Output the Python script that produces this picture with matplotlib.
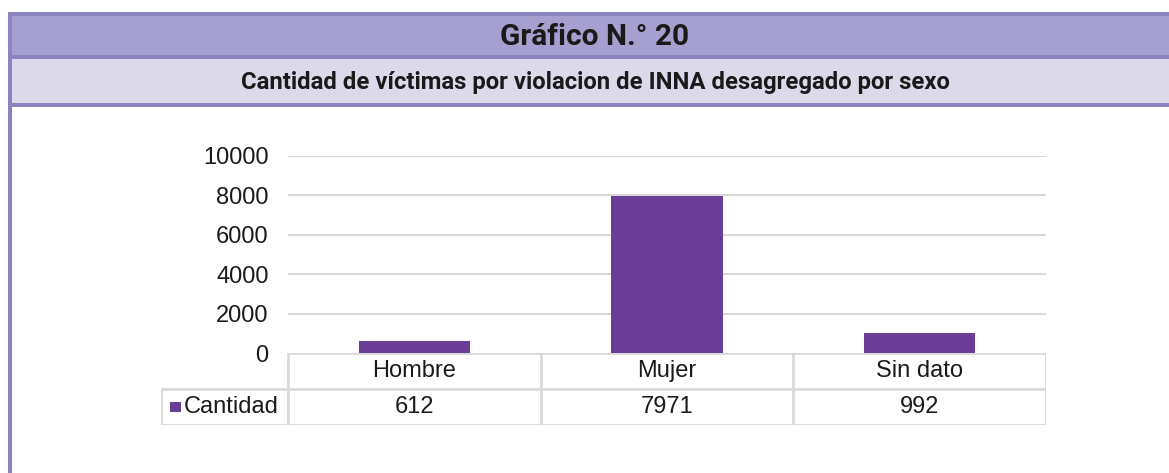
import matplotlib.pyplot as plt
from matplotlib.patches import Rectangle

categories = ['Hombre', 'Mujer', 'Sin dato']
values = [612, 7971, 992]
series_name = 'Cantidad'
yticks = [0, 2000, 4000, 6000, 8000, 10000]
title = 'Gráfico N.° 20'
subtitle = 'Cantidad de víctimas por violacion de INNA desagregado por sexo'

W, H = 1169, 473
BAR = '#6a3d96'
GRID = '#d9d9d9'
BORDER = '#8a84c0'
FS = 17


def fx(px):
    return px / W


def fy(py):
    return 1 - py / H


fig = plt.figure(figsize=(W / 100, H / 100), dpi=100)

# header bands
bg = fig.add_axes([0, 0, 1, 1])
bg.set_xlim(0, W)
bg.set_ylim(H, 0)
bg.axis('off')
bg.add_patch(Rectangle((8, 12), W, 4, color=BORDER, lw=0))
bg.add_patch(Rectangle((12, 16), W, 39, color='#a5a0cf', lw=0))
bg.add_patch(Rectangle((8, 55), W, 4, color=BORDER, lw=0))
bg.add_patch(Rectangle((12, 59), W, 44, color='#dcd9eb', lw=0))
bg.add_patch(Rectangle((8, 103), W, 4, color=BORDER, lw=0))
bg.add_patch(Rectangle((8, 12), 4, H, color=BORDER, lw=0))
bg.text(595, 37, title, ha='center', va='center', fontsize=21.5,
        fontfamily='Roboto', fontweight='bold', color='#1a1a1a')
bg.text(595, 83, subtitle, ha='center', va='center', fontsize=17.2,
        fontfamily='Roboto', fontweight='bold', color='#1a1a1a')

# chart
x0, x1 = 288, 1046
y0, y1 = 353, 156
ax = fig.add_axes([fx(x0), fy(y0), fx(x1 - x0), (y0 - y1) / H])
x = range(len(categories))
ax.bar([i + 0.5 for i in x], values, width=0.44, color=BAR, zorder=3)
ax.set_xlim(0, len(categories))
ax.set_ylim(0, 10000)
ax.set_yticks(yticks)
ax.set_yticklabels([str(t) for t in yticks], fontfamily='Liberation Sans',
                   fontsize=FS, color='#1a1a1a')
ax.tick_params(axis='y', length=0, pad=14)
ax.set_xticks([])
for t in yticks[1:]:
    ax.axhline(t, color=GRID, lw=1.5, zorder=1)
for s in ['top', 'right', 'left', 'bottom']:
    ax.spines[s].set_visible(False)

# data table under the chart
leg_w = (x0 - 161) / ((x1 - x0) / len(categories))
tb = fig.add_axes([fx(161), fy(425), fx(x1 - 161), (425 - 353) / H])
tb.set_xlim(-leg_w, len(categories))
tb.set_ylim(0, 2)
tb.axis('off')
lk = dict(color=GRID, lw=2, solid_capstyle='projecting')
tb.plot([0, len(categories)], [2, 2], **lk)
tb.plot([-leg_w, len(categories)], [1, 1], **lk)
tb.plot([-leg_w, len(categories)], [0, 0], **lk)
tb.plot([-leg_w, -leg_w], [0, 1], **lk)
for i in range(len(categories) + 1):
    tb.plot([i, i], [0, 2], **lk)
tf = dict(fontfamily='Liberation Sans', fontsize=FS, color='#1a1a1a',
          ha='center', va='center')
for i, (c, v) in enumerate(zip(categories, values)):
    tb.text(i + 0.5, 1.5, c, **tf)
    tb.text(i + 0.5, 0.5, str(v), **tf)
tb.add_patch(Rectangle((-leg_w + 0.035, 0.35), 0.045, 0.3, color=BAR, lw=0))
tb.text(-leg_w + 0.09, 0.5, series_name, fontfamily='Liberation Sans',
        fontsize=FS, color='#1a1a1a', ha='left', va='center')

fig.savefig('out.png', dpi=100)
